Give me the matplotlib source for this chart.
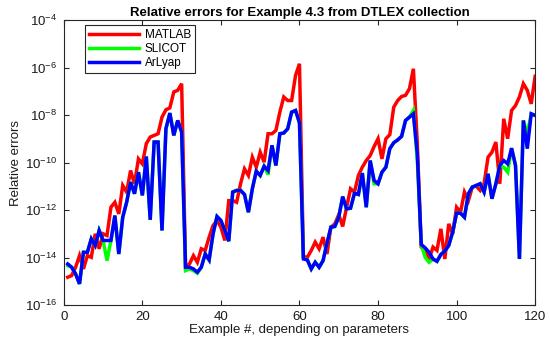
import matplotlib
matplotlib.use("Agg")
import matplotlib.pyplot as plt
import numpy as np

plt.rcParams['font.family'] = ['Liberation Sans', 'DejaVu Sans']
plt.rcParams['mathtext.fontset'] = 'custom'
plt.rcParams['mathtext.rm'] = 'Liberation Sans'
plt.rcParams['mathtext.it'] = 'Liberation Sans:italic'
plt.rcParams['mathtext.bf'] = 'Liberation Sans:bold'

# Example index 1..120
examples = list(range(1, 121))

# log10 of relative errors
matlab_exp = [
    -14.83, -14.76, -14.41, -13.92, -14.48, -13.92, -13.99, -13.00, -13.63, -13.00,
    -13.07, -11.88, -11.67, -12.16, -10.96, -11.24, -10.33, -10.89, -9.84, -10.05,
    -9.20, -8.92, -8.85, -8.78, -8.08, -7.77, -7.69, -7.02, -6.95, -6.67,
    -14.41, -14.27, -13.92, -14.20, -13.63, -13.70, -13.14, -12.65, -12.44, -12.72,
    -13.28, -11.60, -11.60, -11.67, -10.89, -10.26, -10.54, -9.77, -10.19, -9.56,
    -9.98, -8.78, -8.78, -8.64, -7.87, -7.23, -7.38, -7.38, -6.32, -5.83,
    -13.96, -13.99, -13.70, -13.35, -13.63, -13.14, -13.85, -12.72, -12.58, -12.19,
    -12.69, -11.88, -11.10, -11.24, -10.54, -10.19, -9.91, -9.70, -9.32, -8.99,
    -9.84, -8.99, -8.82, -7.66, -7.38, -7.21, -7.16, -6.88, -6.04, -9.20,
    -13.56, -13.70, -14.06, -13.56, -13.70, -12.79, -14.06, -12.58, -13.00, -11.88,
    -12.09, -11.24, -11.60, -11.03, -10.99, -11.17, -10.89, -9.77, -9.56, -9.13,
    -10.89, -8.15, -8.99, -7.80, -7.59, -7.23, -6.67, -6.95, -7.52, -6.36,
]

slicot_exp = [
    -14.34, -14.41, -14.69, -15.11, -13.78, -13.78, -13.21, -13.49, -12.86, -13.28,
    -14.13, -13.28, -12.23, -13.85, -12.30, -11.67, -10.82, -11.31, -10.40, -11.38,
    -9.74, -12.41, -9.13, -9.13, -12.86, -8.57, -7.91, -8.85, -8.22, -8.71,
    -14.55, -14.48, -14.55, -14.66, -14.41, -13.85, -14.10, -13.00, -12.27, -12.44,
    -12.86, -13.31, -11.24, -11.17, -11.17, -11.34, -12.09, -11.10, -10.36, -10.54,
    -10.15, -10.50, -9.27, -10.12, -8.78, -8.75, -8.57, -7.87, -7.80, -8.32,
    -14.02, -14.10, -14.48, -14.20, -14.41, -14.13, -13.40, -12.72, -12.69, -12.30,
    -11.43, -11.95, -11.92, -11.29, -11.34, -10.44, -11.88, -9.91, -10.89, -10.89,
    -10.40, -10.19, -9.41, -9.16, -9.04, -8.89, -8.22, -8.08, -7.80, -9.91,
    -13.45, -13.99, -14.20, -14.06, -14.16, -13.87, -13.73, -13.49, -12.93, -12.13,
    -12.13, -12.30, -11.31, -11.03, -10.96, -10.89, -11.24, -10.47, -11.52, -10.89,
    -10.12, -10.19, -10.40, -9.39, -10.12, -14.06, -8.22, -8.78, -7.94, -8.01,
]

arlyap_exp = [
    -14.27, -14.41, -14.69, -15.11, -13.78, -13.78, -13.21, -13.49, -12.86, -13.28,
    -13.28, -13.28, -12.23, -13.85, -12.30, -11.67, -10.82, -11.31, -10.40, -11.38,
    -9.74, -12.41, -9.13, -9.13, -12.86, -8.57, -7.91, -8.85, -8.22, -8.71,
    -14.41, -14.41, -14.48, -14.62, -14.41, -13.85, -14.10, -13.00, -12.27, -12.44,
    -12.86, -13.31, -11.24, -11.17, -11.17, -11.34, -12.09, -11.10, -10.36, -10.54,
    -10.15, -10.33, -9.27, -10.12, -8.78, -8.75, -8.57, -7.87, -7.80, -8.32,
    -14.06, -14.10, -14.48, -14.20, -14.41, -14.13, -13.40, -12.72, -12.69, -12.30,
    -11.43, -11.95, -11.92, -11.29, -11.34, -10.44, -11.88, -9.91, -10.75, -10.89,
    -10.40, -10.19, -9.41, -9.16, -9.04, -8.89, -8.22, -8.08, -7.94, -9.63,
    -13.45, -13.59, -13.78, -14.06, -14.16, -13.87, -13.73, -13.49, -12.93, -12.13,
    -12.13, -12.30, -11.31, -11.03, -10.96, -10.89, -11.24, -10.47, -11.52, -10.89,
    -10.12, -9.91, -10.05, -9.39, -10.12, -14.06, -8.22, -9.41, -7.94, -8.01,
]

series_names = ['MATLAB', 'SLICOT', 'ArLyap']
series_colors = ['#ff0000', '#00ff00', '#0000ff']

x_ticks = [0, 20, 40, 60, 80, 100, 120]
y_tick_exps = [-16, -14, -12, -10, -8, -6, -4]

fig = plt.figure(figsize=(5.5, 3.45), dpi=100)
ax = fig.add_axes([0.116, 0.116, 0.857, 0.825])

for exps, name, col in zip([matlab_exp, slicot_exp, arlyap_exp], series_names, series_colors):
    ax.semilogy(examples, 10.0 ** np.array(exps), color=col, lw=2.5, label=name,
                solid_joinstyle='miter')

ax.set_xlim(0, 120)
ax.set_ylim(1e-16, 1e-4)
ax.set_xticks(x_ticks)
ax.set_xticklabels([str(t) for t in x_ticks])
ax.set_yticks([10.0 ** e for e in y_tick_exps])
ax.set_yticklabels([r'$10^{%d}$' % e for e in y_tick_exps])
ax.yaxis.set_minor_locator(matplotlib.ticker.NullLocator())

edge = '#262626'
for s in ax.spines.values():
    s.set_color(edge)
    s.set_linewidth(0.8)
ax.tick_params(axis='both', which='both', direction='in', top=True, right=True,
               length=3.5, width=0.8, color=edge, labelsize=9.5, labelcolor='#1a1a1a')
ax.tick_params(axis='x', pad=4)
ax.tick_params(axis='y', pad=5)

ax.set_title('Relative errors for Example 4.3 from DTLEX collection',
             fontsize=9.5, fontweight='bold', pad=3)
ax.set_xlabel('Example #, depending on parameters', fontsize=9.5, labelpad=1, color='#1a1a1a')
ax.set_ylabel('Relative errors', fontsize=9.5, labelpad=2, color='#1a1a1a')

leg = ax.legend(loc='upper left', bbox_to_anchor=(0.045, 0.983), borderaxespad=0,
                fontsize=8.5, handlelength=4.2, handletextpad=0.5, labelspacing=0.15,
                borderpad=0.35, fancybox=False, framealpha=1)
leg.get_frame().set_edgecolor(edge)
leg.get_frame().set_linewidth(0.8)

fig.savefig('out.png', dpi=100)
